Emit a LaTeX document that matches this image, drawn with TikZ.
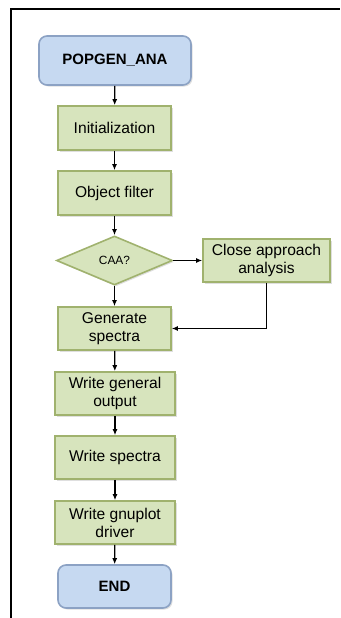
\documentclass[tikz,border=0pt]{standalone}
\usepackage{fontspec}
\setmainfont{Liberation Sans}
\usepackage{tikz}
\usetikzlibrary{shapes.geometric}
\usetikzlibrary{arrows.meta}
\usetikzlibrary{shadows}
\definecolor{boxgreen}{RGB}{215,228,189}
\definecolor{edgegreen}{RGB}{160,178,110}
\definecolor{boxblue}{RGB}{198,217,241}
\definecolor{edgeblue}{RGB}{140,162,196}
\tikzset{
  stepbox/.style={rectangle, fill=boxgreen, draw=edgegreen, line width=1.6pt,
    align=center, font=\fontsize{15.6}{18}\selectfont, inner sep=0pt,
    drop shadow={opacity=0.25, shadow xshift=1.5pt, shadow yshift=-1.5pt}},
  termbox/.style={rectangle, rounded corners=8pt, fill=boxblue, draw=edgeblue,
    line width=1.6pt, font=\fontsize{15}{18}\selectfont\bfseries, inner sep=0pt,
    drop shadow={opacity=0.25, shadow xshift=1.5pt, shadow yshift=-1.5pt}},
  testbox/.style={diamond, fill=boxgreen, draw=edgegreen, line width=1.6pt,
    font=\fontsize{11.9}{14}\selectfont, inner sep=0pt,
    minimum width=116pt, minimum height=49pt,
    drop shadow={opacity=0.25, shadow xshift=1.5pt, shadow yshift=-1.5pt}},
  flow/.style={-{Latex[length=6pt,width=5pt]}, line width=1.3pt}
}
\begin{document}
\begin{tikzpicture}[x=1pt, y=-1pt]
    \useasboundingbox (0,0) rectangle (340,618);
    % frame
    \draw[line width=2.5pt] (11,618) -- (11,9) -- (340,9);
    % main column
    \node[termbox, minimum width=152pt, minimum height=49pt] (start) at (115,60.5) {POPGEN\_ANA};
    \node[stepbox, minimum width=113pt, minimum height=44pt] (init) at (114.5,128) {Initialization};
    \node[stepbox, minimum width=113pt, minimum height=44pt] (filter) at (114.5,193) {Object filter};
    \node[testbox] (caa) at (114.5,260.5) {CAA?};
    \node[stepbox, minimum width=113pt, minimum height=43pt] (spectra) at (114.5,328.5) {Generate\\spectra};
    \node[stepbox, minimum width=120pt, minimum height=43pt] (general) at (115,393.5) {Write general\\output};
    \node[stepbox, minimum width=120pt, minimum height=43pt] (wspectra) at (115,457.5) {Write spectra};
    \node[stepbox, minimum width=120pt, minimum height=43pt] (gnuplot) at (115,522.5) {Write gnuplot\\driver};
    \node[termbox, minimum width=113pt, minimum height=43pt] (stop) at (114.5,586.5) {END};
    % side branch
    \node[stepbox, minimum width=127pt, minimum height=43pt] (close) at (266.5,260.5) {Close approach\\analysis};
    % connectors
    \draw[flow] (start) -- (init);
    \draw[flow] (init) -- (filter);
    \draw[flow] (filter) -- (caa);
    \draw[flow] (caa) -- (spectra);
    \draw[flow] (caa) -- (close);
    \draw[flow] (close.south) |- (spectra.east);
    \draw[flow] (spectra) -- (general);
    \draw[flow] (general) -- (wspectra);
    \draw[flow] (wspectra) -- (gnuplot);
    \draw[flow] (gnuplot) -- (stop);
\end{tikzpicture}
\end{document}
